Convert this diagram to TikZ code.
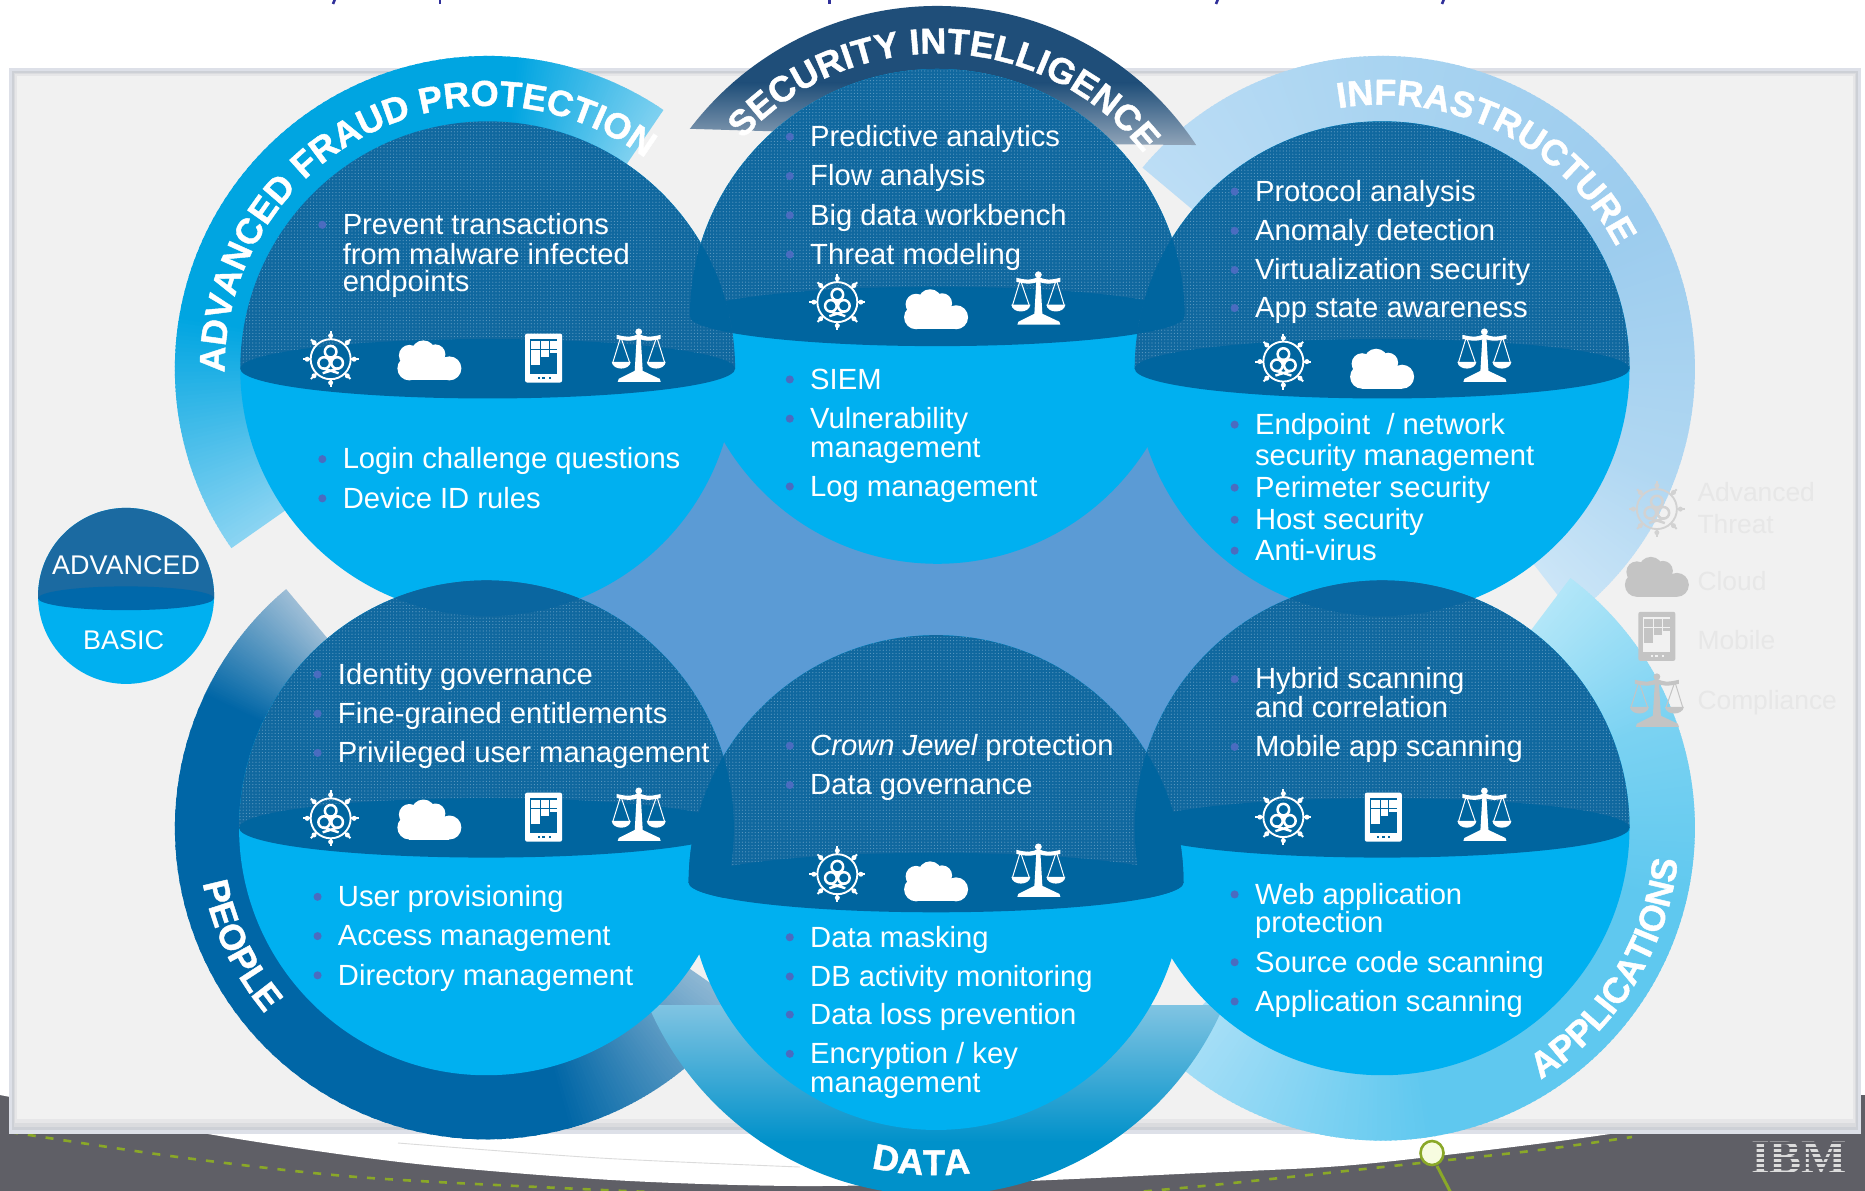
\documentclass[tikz,border=0pt]{standalone}
\usepackage{fontspec}
\setmainfont{Liberation Sans}
\newfontfamily\ringfont[BoldFeatures={FakeBold=1.2}]{Liberation Sans}
\usetikzlibrary{patterns.meta,decorations.text}
\definecolor{water}{HTML}{00B0F0}
\definecolor{domec}{HTML}{10689F}
\definecolor{bandc}{HTML}{00659F}
\definecolor{lensv}{HTML}{0A66A0}
\definecolor{dotc}{HTML}{5E9AC2}
\definecolor{bulc}{HTML}{4A6CC0}
\definecolor{midblue}{HTML}{5B9BD5}
\definecolor{panelc}{HTML}{F1F1F1}
\definecolor{edgea}{HTML}{DDE0E8}
\definecolor{edgeb}{HTML}{CDD0D6}
\definecolor{edgec}{HTML}{DADBDE}
\definecolor{edged}{HTML}{E6E6E8}
\definecolor{darkstrip}{HTML}{5F5F66}
\definecolor{greenc}{HTML}{8AA828}
\definecolor{ringfill}{HTML}{F7FCE0}
\definecolor{fadetxt}{HTML}{E7E7E7}
\definecolor{fadeicon}{HTML}{C4C4C4}
\definecolor{legdome}{HTML}{1B6AA1}
\definecolor{legband}{HTML}{0068AA}
\definecolor{titlec}{HTML}{30309A}
\definecolor{fra}{HTML}{00A5E1}\definecolor{frb}{HTML}{8AD4F2}\definecolor{frc}{HTML}{7DD0F0}
\definecolor{ina}{HTML}{BCDDF5}\definecolor{inb}{HTML}{A9D4F1}\definecolor{inc}{HTML}{9CCCEE}\definecolor{ind}{HTML}{B0D7F2}\definecolor{ine}{HTML}{CBE5F7}
\definecolor{apa}{HTML}{B2E6F8}\definecolor{apb}{HTML}{7AD2F2}\definecolor{apc}{HTML}{5FC8EF}\definecolor{apd}{HTML}{ABE0F7}
\definecolor{pea}{HTML}{9DBDD6}\definecolor{peb}{HTML}{0066A6}\definecolor{pec}{HTML}{8CB6D3}
\definecolor{seca}{HTML}{1F4E79}\definecolor{secb}{HTML}{90A4B8}
\definecolor{dta}{HTML}{80C4E2}\definecolor{dtb}{HTML}{0091CA}
\definecolor{ibmc}{HTML}{DCDCDC}
\newcounter{tcnt}
\tikzset{bodytxt/.style={white,inner sep=0pt,anchor=mid west,font=\fontsize{29.2}{32}\selectfont},
  fadetext/.style={fadetxt,inner sep=0pt,anchor=mid west,font=\fontsize{26.4}{30}\selectfont},
  legtxt/.style={white,inner sep=0pt,font=\fontsize{27}{30}\selectfont}}
\newcommand{\bitem}[3]{\stepcounter{tcnt}\fill[bulc] (#1-17,#2) circle (3.4);
  \node[bodytxt] (t\thetcnt) at (#1,#2+6) {#3};}
\newcommand{\litem}[3]{\stepcounter{tcnt}\node[bodytxt] (t\thetcnt) at (#1,#2+6) {#3};}
% annular band with a colour gradient along the angle: cx cy R r a0 a1 colA colB
\newcommand{\arcband}[8]{\begin{scope}[shift={(#1,#2)}]
  \foreach \t in {0,...,59}{
    \pgfmathsetmacro\aA{#5+(#6-#5)*\t/60}
    \pgfmathsetmacro\aB{#5+(#6-#5)*(\t+1.4)/60}
    \pgfmathsetmacro\pc{100*\t/59}
    \fill[color={#8!\pc!#7}] (\aA:#3) -- (\aB:#3) -- (\aB:#4) -- (\aA:#4) -- cycle;
  }\end{scope}}
\newcommand{\brightc}[2]{\fill[water] (#1,#2) circle (208);}
\newcommand{\darkc}[2]{\begin{scope}\clip (#1,#2) circle (208);
  \fill[domec] (#1-210,#2-210) rectangle (#1+210,#2);
  \path[pattern={Dots[distance=3.2pt,radius=0.6pt]},pattern color=dotc] (#1-210,#2-210) rectangle (#1+210,#2);
  \end{scope}
  \fill[bandc] (#1,#2) ellipse (208 and 25);}
\newcommand{\lenscap}[4]{\begin{scope}\clip (#1,#2) circle (208);\clip (#3,#4) circle (208);
  \fill[bandc] (#3-210,#4-210) rectangle (#3+210,#4);\fill[bandc] (#3,#4) ellipse (208 and 25);\end{scope}}
\newcommand{\lensvert}[4]{\begin{scope}\clip (#1,#2) circle (208);\clip (#3,#4) circle (208);
  \fill[lensv] (#3-210,#4-210) rectangle (#3+210,#4);\end{scope}}
\newcommand{\ringtext}[6]{\path[decorate,decoration={text along path,text align=center,text color=white,
   text={|\ringfont\fontsize{36}{36}\selectfont\bfseries|#6}}]
   ([shift={(#4:#3)}]#1,#2) arc (#4:#5:#3);}
% icons (local units are picture pixels)
\newcommand{\icthreat}[4]{\begin{scope}[shift={(#1,#2)},x=1pt,y=-1pt]
  \draw[#3,line width=1.9pt] (0,0) circle (20);
  \foreach \a in {0,45,...,315}{\draw[#3,line width=1.9pt] (\a:20)--(\a:28);\fill[#3] (\a:23.5) circle (2.5);}
  \foreach \a in {-90,30,150}{\draw[#3,line width=2.5pt] (\a:7.5) circle (5.8);}
  \fill[#3] (0,0) circle (3);
  \draw[#3,line width=2.4pt] (-8,14)--(8,9) (8,14)--(-8,9);
  \end{scope}}
\newcommand{\iccloud}[4]{\begin{scope}[shift={(#1,#2)},x=1pt,y=-1pt]
  \fill[#3] (-6,-8) circle (12); \fill[#3] (-20,-5) circle (10.5); \fill[#3] (6,-6) circle (10);
  \fill[#3] (20,8) circle (12); \fill[#3] (-20,8) circle (12);
  \fill[#3] (-20,-4) rectangle (14,20); \fill[#3] (-20,4) rectangle (20,20);
  \end{scope}}
\newcommand{\icphone}[4]{\begin{scope}[shift={(#1,#2)},x=1pt,y=-1pt]
  \fill[#3,rounded corners=2pt] (-18.5,-24.5) rectangle (18.5,24.5);
  \fill[#4] (-13.5,-19) rectangle (13.5,16);
  \fill[#3] (-12.5,-17) rectangle (-3.5,-9);
  \fill[#3] (-2.5,-17) rectangle (5,-9);
  \fill[#3] (6,-17) rectangle (13.5,-9);
  \fill[#3] (-12.5,-8) rectangle (-3.5,7);
  \fill[#3] (-2.5,-8) rectangle (5,-1);
  \fill[#3] (6,-8) rectangle (13.5,-5);
  \fill[#4] (-6,18.5) rectangle (-4,20.5);
  \fill[#4] (-1.5,18.5) rectangle (1.5,20.5);
  \fill[#4] (5,18.5) rectangle (7,20.5);
  \end{scope}}
\newcommand{\icscale}[4]{\begin{scope}[shift={(#1,#2)},x=1pt,y=-1pt]
  \fill[#3] (-21,25) -- (22,25) -- (21,22) -- (4,14) -- (2,-20) -- (-2,-20) -- (-4,14) -- (-20,22) -- cycle;
  \fill[#3] (0,-25) circle (3.4);
  \fill[#3] (-22,-22) .. controls (-10,-19) and (-6,-20) .. (0,-23) .. controls (6,-20) and (10,-19) .. (22,-22) -- (22,-18) .. controls (10,-15) and (6,-16) .. (0,-18) .. controls (-6,-16) and (-10,-15) .. (-22,-18) -- cycle;
  \draw[#3,line width=1pt] (-18,-20)--(-26,6) (-18,-20)--(-9,6) (18,-20)--(9,6) (18,-20)--(26,6);
  \fill[#3] (-27,5) -- (-8,5) .. controls (-9,14) and (-26,14) .. (-27,5) -- cycle;
  \fill[#3] (8,5) -- (27,5) .. controls (26,14) and (9,14) .. (8,5) -- cycle;
  \end{scope}}
\begin{document}
\begin{tikzpicture}[x=1.18941pt,y=-1.18941pt]
\useasboundingbox (0,0) rectangle (1568,1001.33);
\clip (0,0) rectangle (1568,1001.33);
\fill[white] (0,0) rectangle (1568,1001.33);
% ---- bottom strip and cut-off title, in picture pixels
\begin{scope}[x=1pt,y=-1pt]
  \draw[titlec,line width=2.6pt] (335,-1) -- (333,4) (1218,-1) -- (1216,4) (1444,-1) -- (1442,4);
  \draw[titlec,line width=2.4pt] (440,-1) -- (440,4) (829.5,-1) -- (829.5,4);
  \fill[darkstrip] (0,1095) rectangle (1865,1191);
  \fill[white] plot[smooth] coordinates {(0,1095) (214,1135) (408,1163) (612,1180) (800,1186) (1000,1182) (1200,1173) (1327,1167) (1420,1158) (1603,1135) (1865,1093)} -- (1865,1000) -- (0,1000) -- cycle;
  \draw[color=black!14,line width=.9pt] plot[smooth] coordinates {(398,1143) (600,1158) (800,1167)};
  \draw[greenc,line width=2.6pt,dash pattern=on 8pt off 10pt] plot[smooth] coordinates {(10,1132) (178,1157) (357,1177) (581,1189) (750,1196)};
  \draw[greenc,line width=2.6pt,dash pattern=on 8pt off 10pt] plot[smooth] coordinates {(1090,1196) (1213,1185) (1420,1163) (1539,1150) (1632,1137)};
  \draw[greenc,line width=3pt] (1437,1166) -- (1452,1195);
  \filldraw[draw=greenc,fill=ringfill,line width=2.6pt] (1432,1153) ellipse (11.5 and 12);
  \fill[edgea] (9,68) rectangle (1861,1134);
  \fill[edgeb] (12,71) rectangle (1858,1130);
  \fill[edgec] (14,73) rectangle (1856,1127);
  \fill[edged] (15,74) rectangle (1855,1123);
  \fill[panelc] (17,76) rectangle (1853,1119);
  \node[inner sep=0pt,color=ibmc,font=\fontsize{48}{48}\selectfont\bfseries\fontspec{Liberation Serif}] (ibm) at (1799,1158) {IBM};
  \foreach \yy in {1143,1148,1153,1158,1163,1168,1173}{\draw[darkstrip,line width=1.1pt] (1745,\yy) -- (1853,\yy);}
\end{scope}
% ---- middle blue area
\fill[midblue] (470,503) -- (609,360) -- (965,360) -- (1105,503) -- (965,645) -- (600,645) -- cycle;
% ---- rings (angles run clockwise from east)
\arcband{1162}{310}{263}{195}{220}{270}{ina}{inb}
\arcband{1162}{310}{263}{195}{270}{330}{inb}{inc}
\arcband{1162}{310}{263}{195}{330}{380}{inc}{ind}
\arcband{1162}{310}{263}{195}{380}{412}{ind}{ine}
\arcband{1162}{696}{263}{195}{-53}{-20}{apa}{apb}
\arcband{1162}{696}{263}{195}{-20}{15}{apb}{apc}
\arcband{1162}{696}{263}{195}{15}{80}{apc}{apc}
\arcband{1162}{696}{263}{195}{80}{135}{apc}{apd}
\arcband{409}{696}{262}{195}{230}{205}{pea}{peb}
\arcband{409}{696}{262}{195}{205}{75}{peb}{peb}
\arcband{409}{696}{262}{195}{75}{35}{peb}{pec}
\arcband{410}{310}{263}{195}{145}{190}{frb}{fra}
\arcband{410}{310}{263}{195}{190}{275}{fra}{fra}
\arcband{410}{310}{263}{195}{275}{304}{fra}{frc}
% data ring
\begin{scope}
  \clip (787,742) circle (263);
  \shade[top color=dta,bottom color=dtb] (530,845) rectangle (1045,960);
  \fill[dtb] (530,959.5) rectangle (1045,1010);
\end{scope}
% security ring
\begin{scope}
  \clip (570,108) -- (570,0) -- (1012,0) -- (1012,122) -- (900,121) -- (788,266) -- (670,111) -- cycle;
  \clip (788,266) circle (261);
  \fill[seca] (570,0) rectangle (1012,70);
  \shade[top color=seca,bottom color=secb] (570,69.5) rectangle (1012,122);
\end{scope}
% ---- faded key on the right
\icthreat{1393}{428}{fadeicon!70!panelc}{panelc}
\iccloud{1393}{485}{fadeicon}{panelc}
\icphone{1393}{535}{fadeicon}{panelc}
\icscale{1393}{590}{fadeicon}{panelc}
\node[fadetext] (kadv) at (1427,419) {Advanced};
\node[fadetext] (kthr) at (1427,446) {Threat};
\node[fadetext] (kclo) at (1427,494) {Cloud};
\node[fadetext] (kmob) at (1427,544) {Mobile};
\node[fadetext] (kcom) at (1427,594) {Compliance};
% ---- spheres
\brightc{788}{266}\brightc{787}{742}
\brightc{410}{310}\brightc{1162}{310}\brightc{409}{696}\brightc{1162}{696}
\darkc{788}{266}\darkc{787}{742}
\darkc{410}{310}\darkc{1162}{310}\darkc{409}{696}\darkc{1162}{696}
\lenscap{410}{310}{788}{266}
\lenscap{1162}{310}{788}{266}
\lenscap{409}{696}{787}{742}
\lenscap{1162}{696}{787}{742}
\lensvert{410}{310}{409}{696}
\lensvert{1162}{310}{1162}{696}
% ---- legend sphere
\fill[water] (106,501) circle (74);
\begin{scope}\clip (106,501) circle (74);
  \fill[legdome] (30,425) rectangle (182,503);
\end{scope}
\fill[legband] (106,503) ellipse (74 and 10);
\node[legtxt] (adv) at (106,475) {ADVANCED};
\node[legtxt] (bas) at (104,538) {BASIC};
% ---- ring captions
\ringtext{410}{310}{221}{163}{323}{ADVANCED FRAUD PROTECTION}
\ringtext{788}{266}{221}{212}{332}{SECURITY INTELLIGENCE}
\ringtext{1162}{310}{222}{256}{337}{INFRASTRUCTURE}
\ringtext{409}{696}{243}{184.5}{124.5}{PEOPLE}
\ringtext{787}{742}{246}{118}{68}{DATA}
\ringtext{1162}{696}{250}{70}{-6}{APPLICATIONS}
% ---- icons
\icthreat{278}{302}{white}{bandc}\iccloud{361}{303}{white}{bandc}\icphone{457}{301}{white}{bandc}\icscale{537}{300}{white}{bandc}
\icthreat{704}{254}{white}{bandc}\iccloud{787}{260}{white}{bandc}\icscale{873}{252}{white}{bandc}
\icthreat{1079}{304}{white}{bandc}\iccloud{1162}{310}{white}{bandc}\icscale{1248}{300}{white}{bandc}
\icthreat{278}{688}{white}{bandc}\iccloud{361}{689}{white}{bandc}\icphone{457}{687}{white}{bandc}\icscale{537}{686}{white}{bandc}
\icthreat{704}{735}{white}{bandc}\iccloud{787}{741}{white}{bandc}\icscale{873}{733}{white}{bandc}
\icthreat{1079}{687}{white}{bandc}\icphone{1163}{687}{white}{bandc}\icscale{1248}{686}{white}{bandc}
% ---- texts
\bitem{288}{189}{Prevent transactions}\litem{288}{214}{from malware infected}\litem{288}{237}{endpoints}
\bitem{288}{386}{Login challenge questions}\bitem{288}{419}{Device ID rules}
\bitem{681}{115}{Predictive analytics}\bitem{681}{148}{Flow analysis}\bitem{681}{181}{Big data workbench}\bitem{681}{214}{Threat modeling}
\bitem{681}{319}{SIEM}\bitem{681}{352}{Vulnerability}\litem{681}{376}{management}\bitem{681}{409}{Log management}
\bitem{1055}{161}{Protocol analysis}\bitem{1055}{194}{Anomaly detection}\bitem{1055}{227}{Virtualization security}\bitem{1055}{259}{App state awareness}
\bitem{1055}{357}{Endpoint \ / network}\litem{1055}{383}{security management}\bitem{1055}{410}{Perimeter security}\bitem{1055}{437}{Host security}\bitem{1055}{463}{Anti-virus}
\bitem{284}{567}{Identity governance}\bitem{284}{600}{Fine-grained entitlements}\bitem{284}{633}{Privileged user management}
\bitem{284}{754}{User provisioning}\bitem{284}{787}{Access management}\bitem{284}{820}{Directory management}
\bitem{681}{627}{\itshape Crown Jewel\upshape{} protection}\bitem{681}{660}{Data governance}
\bitem{681}{788}{Data masking}\bitem{681}{821}{DB activity monitoring}\bitem{681}{853}{Data loss prevention}\bitem{681}{886}{Encryption / key}\litem{681}{910}{management}
\bitem{1055}{571}{Hybrid scanning}\litem{1055}{595}{and correlation}\bitem{1055}{628}{Mobile app scanning}
\bitem{1055}{752}{Web application}\litem{1055}{776}{protection}\bitem{1055}{809}{Source code scanning}\bitem{1055}{842}{Application scanning}
\end{tikzpicture}
\end{document}
